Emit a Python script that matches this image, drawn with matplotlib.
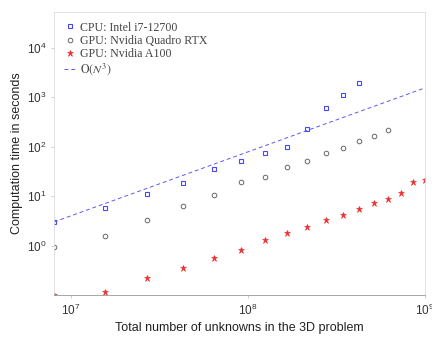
import matplotlib.pyplot as plt
import numpy as np

# grid sizes N, problem has N^3 unknowns
grid_n = np.array([200, 250, 300, 350, 400, 450, 500, 550, 600, 650, 700, 750, 800, 850, 900, 950, 1000])
unknowns = grid_n.astype(float) ** 3

# timings (seconds)
cpu_time = [3.0, 5.8, 11.1, 18.5, 35.5, 51, 75, 99, 230, 610, 1130, 1950]
quadro_time = [0.94, 1.56, 3.3, 6.3, 10.5, 19.5, 24.5, 39, 52, 74, 95, 132, 166, 219]
a100_time = [0.1, 0.115, 0.22, 0.35, 0.56, 0.81, 1.3, 1.8, 2.4, 3.3, 4.2, 5.5, 7.3, 8.7, 11.6, 19.5, 21.3]

# reference trend line end points
ref_x = [8e6, 1e9]
ref_y = [3.0, 1550]

plt.rcParams['font.family'] = ['Liberation Sans', 'DejaVu Sans']
plt.rcParams['mathtext.fontset'] = 'stix'

fig = plt.figure(figsize=(4.32, 3.43), dpi=100)
ax = fig.add_axes([0.125, 0.14, 0.859, 0.825])

ax.plot(unknowns[:len(cpu_time)], cpu_time, 's', ms=3.3, mfc='none', mec='#4848ee', mew=0.8,
        label='CPU: Intel i7-12700')
ax.plot(unknowns[:len(quadro_time)], quadro_time, 'o', ms=3.3, mfc='none', mec='#666666', mew=0.7,
        label='GPU: Nvidia Quadro RTX')
ax.plot(unknowns, a100_time, '*', ms=5, color='#ee2a2a', mew=0.4,
        label='GPU: Nvidia A100')
ax.plot(ref_x, ref_y, '--', color='#5a5aee', lw=0.7, dashes=(4, 3),
        label=r'$\mathrm{O}(N^3)$')

ax.set_xscale('log')
ax.set_yscale('log')
ax.set_xlim(8e6, 1e9)
ax.set_ylim(0.1, 5.3e4)
ax.set_xticks([1e7, 1e8, 1e9])
ax.set_yticks([1, 10, 100, 1000, 10000])
ax.minorticks_off()
ax.tick_params(labelsize=8.5, colors='#333333', length=2, width=0.5, color='#bbbbbb')

for side in ['top', 'right', 'left']:
    ax.spines[side].set_color('#dddddd')
    ax.spines[side].set_linewidth(0.6)
ax.spines['bottom'].set_color('#999999')
ax.spines['bottom'].set_linewidth(0.6)

ax.set_xlabel('Total number of unknowns in the 3D problem', fontsize=9, color='#222222', labelpad=3)
ax.set_ylabel('Computation time in seconds', fontsize=9, color='#222222', labelpad=3)

leg = ax.legend(loc='upper left', frameon=False, handlelength=1.0,
                handletextpad=0.4, labelspacing=0.1, borderaxespad=0.4,
                prop={'family': 'Liberation Serif', 'size': 8.6})
for t in leg.get_texts():
    t.set_color('#444444')

fig.savefig('out.png', dpi=100, facecolor='white')
